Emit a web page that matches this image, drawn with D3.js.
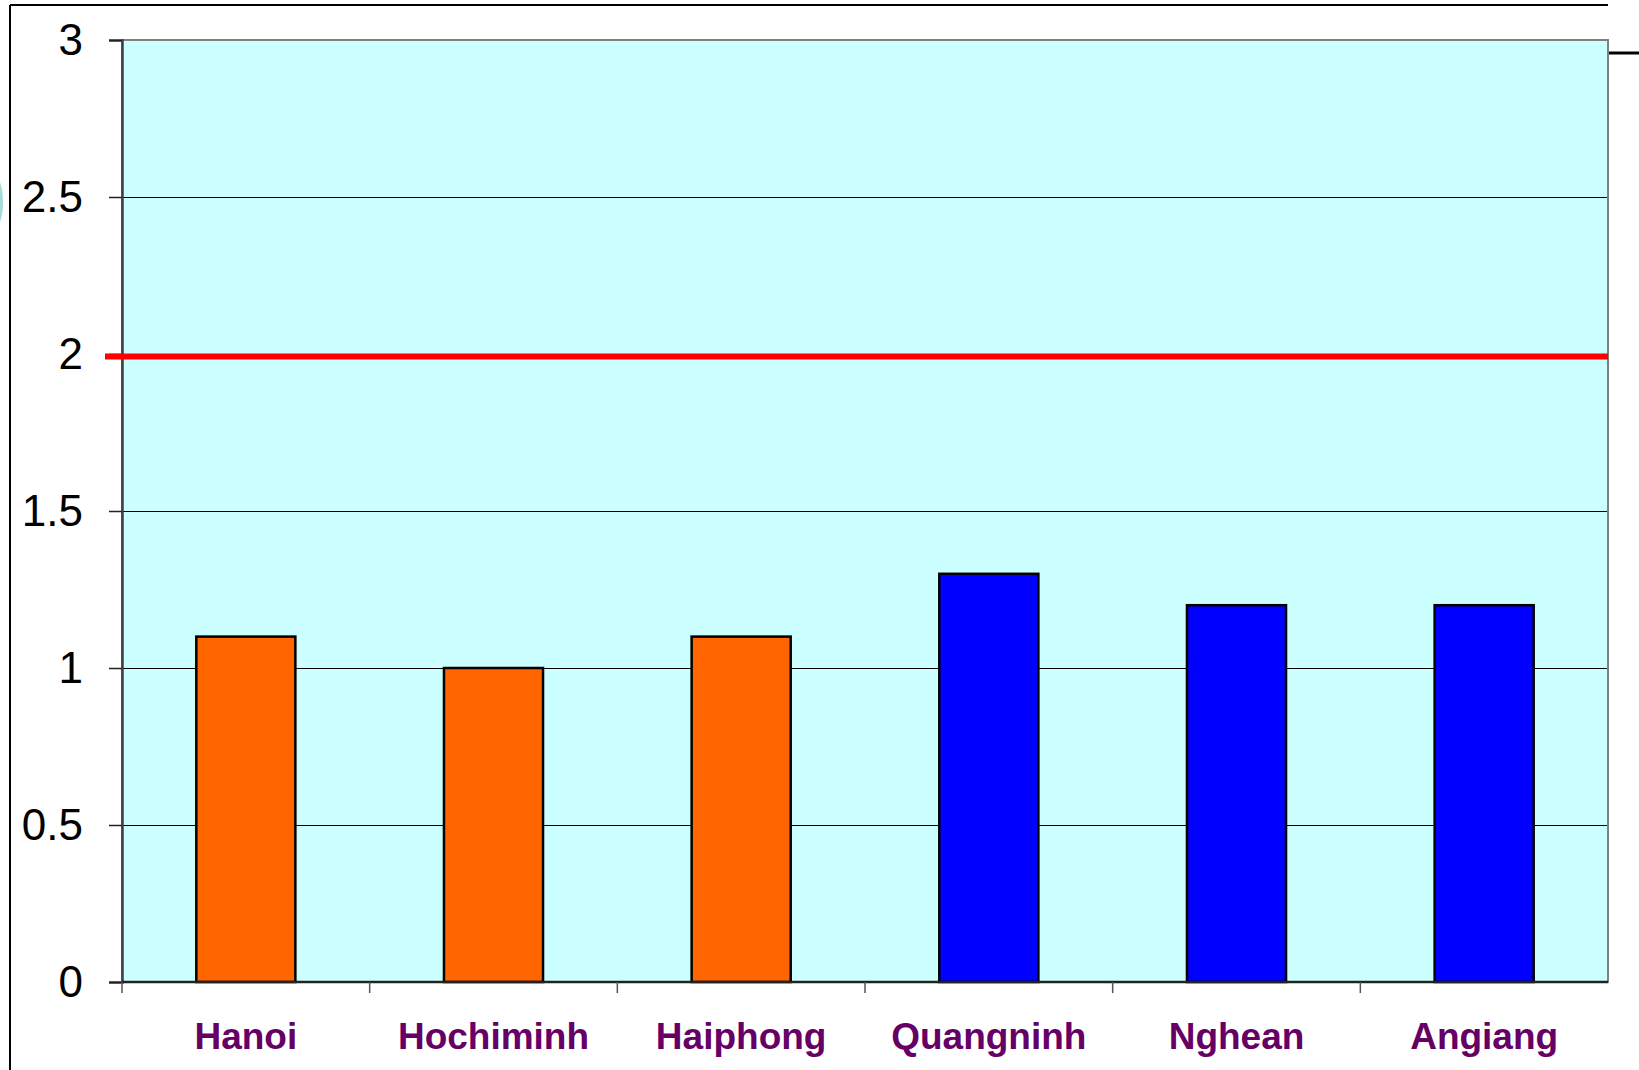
<!DOCTYPE html>
<html>
<head>
<meta charset="utf-8">
<script src="https://cdn.jsdelivr.net/npm/d3@7"></script>
<style>
  html, body { margin: 0; padding: 0; background: #ffffff; }
  svg { display: block; }
</style>
</head>
<body>
<svg id="chart" width="1639" height="1070"></svg>
<script>
// Provinces and their values
const categories = ["Hanoi", "Hochiminh", "Haiphong", "Quangninh", "Nghean", "Angiang"];
const values = [1.1, 1.0, 1.1, 1.3, 1.2, 1.2];
const groups = ["city", "city", "city", "province", "province", "province"];
const yTicks = [0, 0.5, 1, 1.5, 2, 2.5, 3];
const referenceLevel = 2;

const colors = { city: "#FF6600", province: "#0000FF" };

const svg = d3.select("#chart");
const W = 1639, H = 1070;
const plot = { left: 122, top: 40, right: 1608, bottom: 982 };

// Frame lines around the slide area
svg.append("line").attr("x1", 10).attr("x2", 10).attr("y1", 5).attr("y2", H)
  .attr("stroke", "#000").attr("stroke-width", 2);
svg.append("line").attr("x1", 10).attr("x2", 1608).attr("y1", 5).attr("y2", 5)
  .attr("stroke", "#000").attr("stroke-width", 2);
svg.append("line").attr("x1", 1609).attr("x2", W).attr("y1", 53).attr("y2", 53)
  .attr("stroke", "#000").attr("stroke-width", 3);
svg.append("ellipse").attr("cx", -4).attr("cy", 202).attr("rx", 7).attr("ry", 24)
  .attr("fill", "#8fd3d0").attr("opacity", 0.8);

const x = d3.scaleBand().domain(categories).range([plot.left, plot.right]).paddingInner(0).paddingOuter(0);
const y = d3.scaleLinear().domain([0, 3]).range([plot.bottom, plot.top]);

// Plot background
svg.append("rect")
  .attr("x", plot.left).attr("y", plot.top)
  .attr("width", plot.right - plot.left).attr("height", plot.bottom - plot.top)
  .attr("fill", "#CCFFFF");

// Horizontal gridlines
svg.append("g").selectAll("line").data(yTicks.filter(t => t > 0 && t < 3)).join("line")
  .attr("x1", plot.left).attr("x2", plot.right)
  .attr("y1", d => Math.round(y(d)) + 0.5).attr("y2", d => Math.round(y(d)) + 0.5)
  .attr("stroke", "#000").attr("stroke-width", 1);

// Plot border
svg.append("rect")
  .attr("x", plot.left).attr("y", plot.top)
  .attr("width", plot.right - plot.left).attr("height", plot.bottom - plot.top)
  .attr("fill", "none").attr("stroke", "#808080").attr("stroke-width", 2);

// Bars
const barW = x.bandwidth() * 0.4;
svg.append("g").selectAll("rect").data(categories).join("rect")
  .attr("x", (d) => x(d) + (x.bandwidth() - barW) / 2)
  .attr("y", (d, i) => y(values[i]))
  .attr("width", barW)
  .attr("height", (d, i) => y(0) - y(values[i]))
  .attr("fill", (d, i) => colors[groups[i]])
  .attr("stroke", "#000").attr("stroke-width", 2.5);

// Y axis
const yAxis = d3.axisLeft(y).tickValues(yTicks).tickSize(13).tickFormat(d3.format("~g"));
const gy = svg.append("g").attr("transform", `translate(${plot.left},0)`).call(yAxis);
gy.select(".domain").attr("stroke", "#404040").attr("stroke-width", 2.5);
gy.selectAll(".tick line").attr("stroke", "#222").attr("stroke-width", 1.5);
gy.selectAll(".tick text")
  .attr("x", 83 - plot.left)
  .attr("dy", "0.32em")
  .attr("font-family", "Liberation Sans, Arial, sans-serif")
  .attr("font-size", 44)
  .attr("fill", "#000");

// X axis: boundary ticks between categories
const xBounds = categories.map(c => x(c)).concat([plot.right]);
svg.append("line").attr("x1", plot.left).attr("x2", plot.right)
  .attr("y1", plot.bottom).attr("y2", plot.bottom)
  .attr("stroke", "#222").attr("stroke-width", 2.5);
svg.append("g").selectAll("line").data(xBounds.slice(0, -1)).join("line")
  .attr("x1", d => d).attr("x2", d => d)
  .attr("y1", plot.bottom).attr("y2", plot.bottom + 11)
  .attr("stroke", "#555").attr("stroke-width", 1.5);

// Category labels
svg.append("g").selectAll("text").data(categories).join("text")
  .attr("x", d => x(d) + x.bandwidth() / 2)
  .attr("y", 1049)
  .attr("text-anchor", "middle")
  .attr("font-family", "Liberation Sans, Arial, sans-serif")
  .attr("font-weight", "bold")
  .attr("font-size", 37)
  .attr("fill", "#660066")
  .text(d => d);

// Reference threshold line
svg.append("line")
  .attr("x1", 105).attr("x2", plot.right)
  .attr("y1", y(referenceLevel) + 2.5).attr("y2", y(referenceLevel) + 2.5)
  .attr("stroke", "#FF0000").attr("stroke-width", 6);
</script>
</body>
</html>
